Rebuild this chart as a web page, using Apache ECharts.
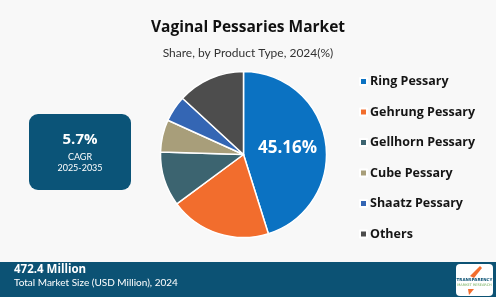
<!DOCTYPE html>
<html><head><meta charset="utf-8">
<script src="https://cdn.jsdelivr.net/npm/echarts@6/dist/echarts.min.js"></script>
<style>html,body{margin:0;padding:0;background:#f8f8f8;}#c{width:496px;height:297px;}</style>
</head><body><div id="c"></div>
<script>
const categories = ['Ring Pessary','Gehrung Pessary','Gellhorn Pessary','Cube Pessary','Shaatz Pessary','Others'];
const shares = [45.16, 19.7, 10.6, 6.3, 5.1, 13.14];
const colors = ['#0b72c2','#f26d2d','#3c6470','#a89e7a','#3466b4','#4d4d4d'];
const titleText = 'Vaginal Pessaries Market';
const subtitleText = 'Share, by Product Type, 2024(%)';
const cagrValue = '5.7%';
const cagrPeriod = '2025-2035';
const marketSize = '472.4 Million';
const marketLabel = 'Total Market Size (USD Million), 2024';

const chart = echarts.init(document.getElementById('c'), null, {renderer:'canvas'});
chart.setOption({
  backgroundColor: '#f8f8f8',
  animation: false,
  title: [
    {text: titleText, left: 243, top: 15, textAlign: 'center',
     textStyle: {fontFamily: 'Open Sans', fontWeight: 'bold', fontSize: 15.5, color: '#111'}},
    {text: subtitleText, left: 243, top: 42, textAlign: 'center',
     textStyle: {fontFamily: 'Lato', fontWeight: 'normal', fontSize: 12, color: '#333'}}
  ],
  legend: {
    orient: 'vertical', left: 354, top: 70, itemGap: 17.5,
    itemWidth: 7, itemHeight: 7, icon: 'rect',
    textStyle: {fontFamily: 'Open Sans', fontWeight: 'bold', fontSize: 12.5, color: '#151515', padding: [0,0,0,-2]},
    data: categories
  },
  series: [{
    type: 'pie', center: [243.5, 154.5], radius: [0, 83],
    startAngle: 90, clockwise: true,
    itemStyle: {borderColor: '#ffffff', borderWidth: 1.5},
    label: {show: false},
    labelLine: {show: false},
    data: categories.map((n,i) => ({
      name: n, value: shares[i], itemStyle: {color: colors[i]},
      label: i === 0 ? {show: true, position: 'inside', formatter: shares[i].toFixed(2) + '%',
        fontFamily: 'Open Sans', fontWeight: 'bold', fontSize: 17, color: '#fff'} : {show:false}
    }))
  }],
  graphic: [
    {type: 'rect', shape: {x: 29, y: 114, width: 102, height: 76, r: 9}, style: {fill: '#0b5478'}},
    {type: 'text', x: 80, y: 140, style: {text: cagrValue, fill: '#fff', font: 'bold 15px "Open Sans"', textAlign: 'center', textVerticalAlign: 'middle'}},
    {type: 'text', x: 80, y: 157, style: {text: 'CAGR', fill: '#fff', font: '9px Lato', textAlign: 'center', textVerticalAlign: 'middle'}},
    {type: 'text', x: 80, y: 168, style: {text: cagrPeriod, fill: '#fff', font: '9px Lato', textAlign: 'center', textVerticalAlign: 'middle'}},
    {type: 'rect', shape: {x: 0, y: 262, width: 496, height: 35}, style: {fill: '#0c5274'}},
    {type: 'text', x: 14, y: 270, style: {text: marketSize, fill: '#fff', font: 'bold 11.5px "Open Sans"', textVerticalAlign: 'middle'}},
    {type: 'text', x: 14, y: 283, style: {text: marketLabel, fill: '#fff', font: '10px Lato', textVerticalAlign: 'middle'}},
    {type: 'rect', shape: {x: 456, y: 264, width: 37, height: 32, r: 4}, style: {fill: '#ffffff'}},
    {type: 'polygon', shape: {points: [[470,276],[480,266],[482,268],[474,278]]}, style: {fill: '#f26d2d'}},
    {type: 'text', x: 474.5, y: 280, style: {text: 'TRANSPARENCY', fill: '#0c5274', font: 'bold 4px "DejaVu Sans"', textAlign: 'center', textVerticalAlign: 'middle'}},
    {type: 'text', x: 474.5, y: 285, style: {text: 'MARKET RESEARCH', fill: '#6aa84f', font: '3.5px "DejaVu Sans"', textAlign: 'center', textVerticalAlign: 'middle'}},
    {type: 'polygon', shape: {points: [[468,289],[474,289],[469,295]]}, style: {fill: '#f26d2d'}}
  ]
});
</script></body></html>
